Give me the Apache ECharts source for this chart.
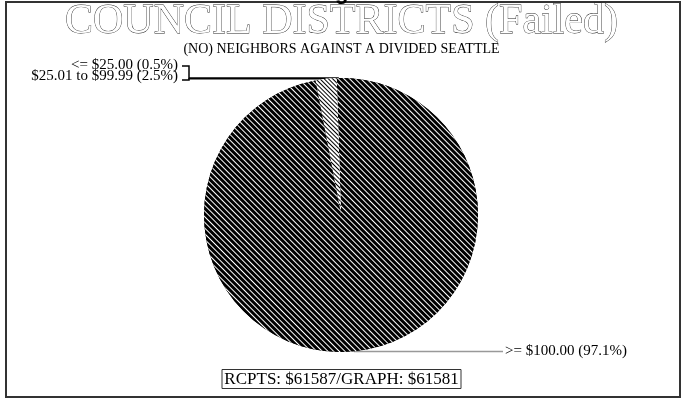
<!DOCTYPE html>
<html>
<head>
<meta charset="utf-8">
<script src="https://cdn.jsdelivr.net/npm/echarts@6/dist/echarts.min.js"></script>
<style>html,body{margin:0;padding:0;background:#fff;}#c{width:683px;height:400px;}</style>
</head>
<body>
<div id="c"></div>
<script>
const categories = ['<= $25.00', '$25.01 to $99.99', '>= $100.00'];
const values = [0.5, 2.5, 97.1];
const titleText = 'COUNCIL DISTRICTS (Failed)';
const subtitleText = '(NO) NEIGHBORS AGAINST A DIVIDED SEATTLE';
const footerText = 'RCPTS: $61587/GRAPH: $61581';

const serif = 'Liberation Serif';
const darkDecal = {
  symbol: 'rect', symbolSize: 1, color: '#fff', backgroundColor: '#000',
  dashArrayX: [1, 0], dashArrayY: [1, 2.5], rotation: Math.PI / 4
};
const lightDecal = {
  symbol: 'rect', symbolSize: 1, color: '#000', backgroundColor: '#fff',
  dashArrayX: [1, 0], dashArrayY: [1, 1.5], rotation: Math.PI / 4
};
const decals = [darkDecal, lightDecal, darkDecal];
const baseColors = ['#000', '#fff', '#000'];

const chart = echarts.init(document.getElementById('c'), null, {renderer: 'canvas'});
chart.setOption({
  backgroundColor: '#fff',
  animation: false,
  title: [
    {
      text: titleText, left: 'center', top: -4,
      textStyle: {fontFamily: serif, fontSize: 42, fontWeight: 'normal', color: '#fff',
                  textBorderColor: '#222', textBorderWidth: 0.8}
    },
    {
      text: subtitleText, left: 'center', top: 37,
      textStyle: {fontFamily: serif, fontSize: 14, fontWeight: 'normal', color: '#000'}
    },
    {
      text: footerText, left: 'center', top: 369, padding: [2, 3, 1, 3],
      borderColor: '#333', borderWidth: 1,
      textStyle: {fontFamily: serif, fontSize: 17, fontWeight: 'normal', color: '#000'}
    }
  ],
  graphic: [
    {type: 'rect', shape: {x: 6, y: 2, width: 674, height: 395},
     style: {fill: 'none', stroke: '#333', lineWidth: 2}, silent: true},
    {type: 'text', x: 335, y: 4,
     style: {text: 'g', font: 'bold 22px "Liberation Sans"', fill: '#000', verticalAlign: 'bottom'}}
  ],
  series: [{
    type: 'pie',
    center: [341, 215],
    radius: 137,
    startAngle: 90,
    clockwise: false,
    silent: true,
    emphasis: {disabled: true},
    data: categories.map((name, i) => ({
      name, value: values[i],
      itemStyle: {color: baseColors[i], decal: decals[i], borderWidth: 0},
      labelLine: {lineStyle: {color: i === 2 ? '#999' : '#000', width: 1.5}}
    })),
    label: {
      show: true, fontFamily: serif, fontSize: 15, color: '#000',
      formatter: p => p.name + ' (' + p.value + '%)'
    },
    labelLine: {show: true, length: 10, length2: 10, smooth: false},
    labelLayout: function (p) {
      const a = p.labelLinePoints ? p.labelLinePoints[0] : [0, 0];
      if (p.dataIndex === 0) {
        return {x: 178, y: 65, align: 'right', verticalAlign: 'middle',
                labelLinePoints: [[a[0], a[1]], [189, a[1]], [189, 66], [182, 66]]};
      } else if (p.dataIndex === 1) {
        return {x: 178, y: 76, align: 'right', verticalAlign: 'middle',
                labelLinePoints: [[a[0], a[1]], [189, a[1]], [189, 80], [182, 80]]};
      }
      return {x: 505, y: 351, align: 'left', verticalAlign: 'middle',
              labelLinePoints: [[a[0], a[1]], [503, a[1]]]};
    }
  }]
});
</script>
</body>
</html>
